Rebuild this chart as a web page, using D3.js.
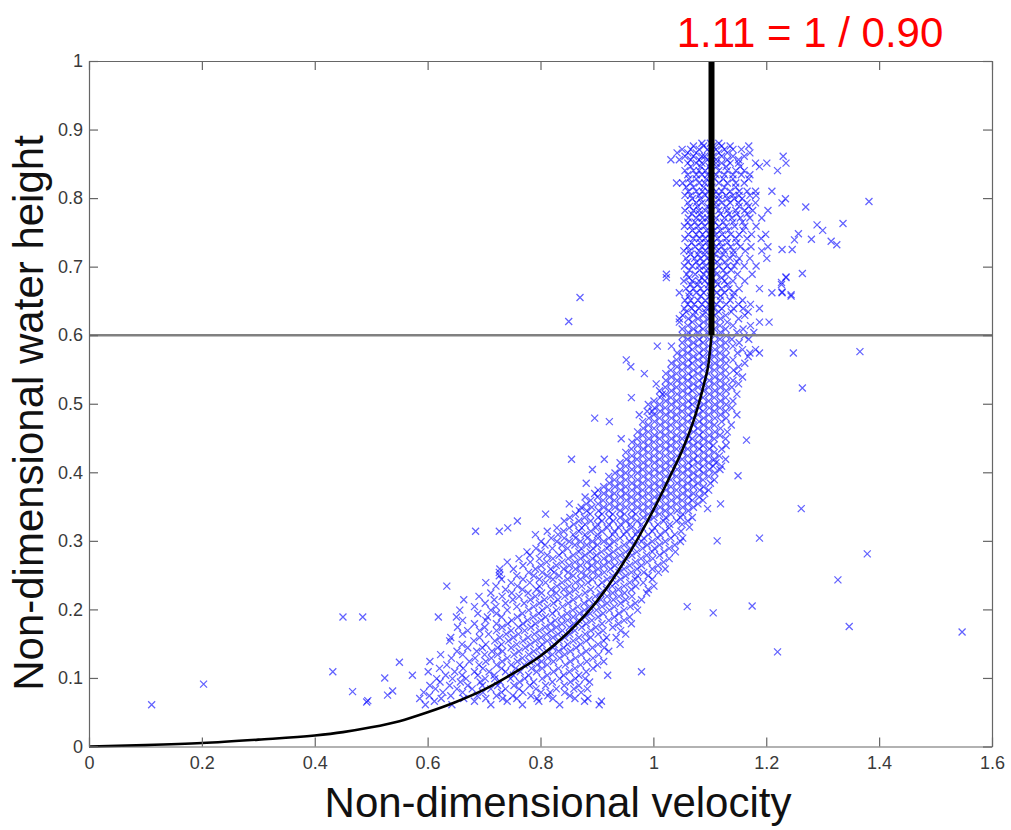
<!DOCTYPE html>
<html lang="en">
<head>
<meta charset="UTF-8" />
<title>Non-dimensional water height vs velocity</title>
<script src="https://cdn.jsdelivr.net/npm/d3@7"></script>
<style>
  body { margin: 0; background: #fff; }
  svg { display: block; font-family: "Liberation Sans", Arial, sans-serif; }
  .tick text { fill: #3a3a3a; font-size: 18px; font-family: "Liberation Sans", Arial, sans-serif; }
  .domain, .tick line { stroke: #666; stroke-width: 1.2; }
</style>
</head>
<body>
<div id="chart"></div>
<script>
// tick values
const xTicks = [0, 0.2, 0.4, 0.6, 0.8, 1, 1.2, 1.4, 1.6];
const yTicks = [0, 0.1, 0.2, 0.3, 0.4, 0.5, 0.6, 0.7, 0.8, 0.9, 1];

// theoretical curve
const curveX = [0, 0.1, 0.2, 0.3, 0.4, 0.45, 0.5, 0.55, 0.6, 0.65, 0.7, 0.75, 0.8, 0.85, 0.9, 0.95, 1.0, 1.03, 1.05, 1.075, 1.09, 1.098, 1.103];
const curveY = [0, 0.002, 0.005, 0.01, 0.016, 0.021, 0.028, 0.037, 0.05, 0.065, 0.083, 0.106, 0.132, 0.167, 0.212, 0.272, 0.345, 0.395, 0.43, 0.485, 0.53, 0.56, 0.6];

// limit line and level line
const limitX = 1.103;
const levelY = 0.6;

// scattered measurements far from the band [x, y]
const lowOutliers = [[0.111,0.061],[0.203,0.091],[0.432,0.109],[0.450,0.189],[0.485,0.189],[0.467,0.080],[0.492,0.065],[0.494,0.067],[0.524,0.100],[0.529,0.075],[0.538,0.081],[0.550,0.123],[0.573,0.104]];
const rightOutliers = [[1.150,0.395],[1.096,0.347],[1.119,0.354],[1.262,0.347],[1.064,0.320],[1.113,0.300],[1.188,0.304],[1.379,0.281],[1.327,0.243],[1.060,0.204],[1.106,0.195],[1.175,0.205],[1.347,0.175],[1.547,0.167],[1.220,0.138],[1.248,0.574],[1.264,0.523],[1.165,0.447],[1.366,0.576],[1.270,0.787],[1.382,0.795],[1.336,0.763],[1.290,0.761],[1.300,0.753],[1.280,0.740],[1.315,0.737],[1.325,0.732],[1.228,0.725],[1.246,0.725],[1.257,0.748],[1.250,0.739],[1.264,0.690],[1.235,0.685],[1.227,0.677],[1.228,0.663],[1.244,0.659],[0.870,0.655],[0.850,0.620]];

// main band, one row per height: [y, x, x, ...]
const bandRows = [
[0.061,0.596,0.643,0.712,0.768,0.834,0.904],
[0.066,0.612,0.683,0.741,0.797,0.878,0.908],
[0.070,0.586,0.624,0.664,0.703,0.733,0.758,0.794,0.822,0.861,0.884],
[0.074,0.603,0.641,0.688,0.722,0.751,0.783,0.813,0.852],
[0.079,0.593,0.627,0.662,0.698,0.731,0.769,0.801,0.817,0.843,0.872],
[0.084,0.614,0.652,0.679,0.712,0.738,0.762,0.792,0.828,0.859,0.883],
[0.089,0.604,0.639,0.671,0.697,0.724,0.753,0.781,0.809,0.842,0.868],
[0.094,0.622,0.658,0.693,0.729,0.763,0.788,0.821,0.853,0.887],
[0.099,0.616,0.644,0.668,0.702,0.719,0.747,0.772,0.803,0.834,0.862,0.879],
[0.104,0.632,0.661,0.689,0.718,0.752,0.779,0.812,0.841,0.868,0.919],
[0.109,0.601,0.648,0.683,0.709,0.738,0.764,0.793,0.823,0.851,0.881,0.979],
[0.114,0.621,0.663,0.698,0.731,0.756,0.784,0.803,0.832,0.861,0.893],
[0.119,0.634,0.657,0.691,0.722,0.748,0.771,0.794,0.812,0.844,0.871,0.901],
[0.124,0.604,0.674,0.703,0.732,0.759,0.781,0.802,0.823,0.853,0.882,0.912],
[0.129,0.642,0.684,0.713,0.741,0.768,0.792,0.813,0.834,0.862,0.893],
[0.134,0.623,0.662,0.701,0.724,0.753,0.779,0.801,0.821,0.843,0.872,0.903],
[0.139,0.652,0.687,0.714,0.733,0.762,0.788,0.811,0.832,0.853,0.881,0.921],
[0.144,0.671,0.697,0.724,0.748,0.773,0.798,0.822,0.841,0.863,0.892,0.913],
[0.149,0.661,0.703,0.731,0.758,0.782,0.803,0.824,0.848,0.871,0.902,0.941],
[0.154,0.639,0.682,0.719,0.743,0.769,0.791,0.812,0.833,0.858,0.881,0.912],
[0.159,0.641,0.692,0.728,0.752,0.778,0.801,0.822,0.843,0.868,0.889,0.917,0.934],
[0.164,0.662,0.708,0.739,0.761,0.789,0.811,0.831,0.852,0.879,0.902,0.951],
[0.169,0.671,0.692,0.722,0.748,0.772,0.798,0.819,0.839,0.861,0.889,0.911,0.942],
[0.174,0.653,0.701,0.732,0.761,0.783,0.808,0.828,0.851,0.873,0.898,0.928],
[0.179,0.683,0.722,0.742,0.769,0.791,0.818,0.838,0.859,0.881,0.909,0.938,0.961],
[0.184,0.662,0.703,0.749,0.777,0.801,0.826,0.848,0.868,0.891,0.921,0.948],
[0.189,0.619,0.651,0.706,0.731,0.759,0.787,0.809,0.837,0.858,0.879,0.902,0.931,0.958],
[0.194,0.689,0.722,0.768,0.797,0.821,0.847,0.869,0.888,0.911,0.939],
[0.199,0.657,0.712,0.741,0.779,0.803,0.828,0.857,0.878,0.899,0.922,0.948,0.972],
[0.204,0.683,0.721,0.758,0.788,0.812,0.839,0.866,0.887,0.909,0.931,0.959],
[0.209,0.702,0.738,0.771,0.798,0.823,0.849,0.877,0.898,0.918,0.942,0.968],
[0.214,0.664,0.718,0.751,0.782,0.807,0.831,0.858,0.886,0.907,0.929,0.951,0.979],
[0.219,0.691,0.732,0.762,0.791,0.818,0.843,0.868,0.897,0.918,0.939,0.962],
[0.224,0.712,0.749,0.778,0.802,0.828,0.852,0.879,0.906,0.928,0.949,0.988],
[0.229,0.738,0.768,0.793,0.819,0.841,0.862,0.889,0.917,0.938,0.961,0.991],
[0.234,0.634,0.721,0.759,0.798,0.829,0.851,0.873,0.902,0.927,0.948,0.969,1.001],
[0.239,0.703,0.748,0.781,0.809,0.838,0.862,0.884,0.909,0.933,0.958,0.982],
[0.244,0.731,0.769,0.798,0.822,0.848,0.871,0.892,0.918,0.942,0.968,0.998],
[0.249,0.727,0.758,0.788,0.812,0.833,0.858,0.881,0.903,0.928,0.951,0.972,0.991],
[0.254,0.727,0.779,0.803,0.824,0.849,0.872,0.893,0.913,0.939,0.961,0.983,1.009],
[0.259,0.728,0.752,0.791,0.818,0.841,0.862,0.883,0.902,0.924,0.948,0.971,0.998,1.021],
[0.264,0.769,0.801,0.828,0.851,0.871,0.891,0.912,0.932,0.958,0.979,1.008],
[0.269,0.741,0.782,0.811,0.838,0.861,0.882,0.901,0.921,0.943,0.968,0.989,1.018],
[0.274,0.762,0.798,0.822,0.849,0.871,0.892,0.912,0.931,0.952,0.978,0.999,1.028],
[0.279,0.781,0.812,0.833,0.858,0.879,0.899,0.921,0.941,0.962,0.988,1.011],
[0.284,0.776,0.801,0.839,0.868,0.888,0.908,0.929,0.951,0.971,0.998,1.019,1.039],
[0.289,0.792,0.821,0.848,0.872,0.893,0.918,0.938,0.959,0.981,1.002,1.028],
[0.294,0.808,0.838,0.861,0.882,0.901,0.922,0.948,0.968,0.989,1.011,1.038],
[0.299,0.801,0.829,0.851,0.871,0.892,0.912,0.931,0.958,0.979,0.998,1.021,1.048],
[0.304,0.819,0.842,0.862,0.883,0.902,0.921,0.941,0.962,0.983,1.008,1.031,1.052],
[0.309,0.791,0.831,0.858,0.879,0.901,0.928,0.948,0.969,0.991,1.012,1.038],
[0.314,0.685,0.727,0.812,0.841,0.868,0.889,0.909,0.931,0.952,0.972,0.998,1.021,1.049],
[0.319,0.742,0.829,0.851,0.873,0.898,0.918,0.939,0.961,0.981,1.002,1.028],
[0.324,0.859,0.879,0.901,0.921,0.942,0.959,0.979,1.008,1.029,1.051],
[0.329,0.759,0.842,0.868,0.889,0.909,0.929,0.951,0.971,0.992,1.018,1.041,1.061],
[0.334,0.852,0.878,0.902,0.922,0.941,0.961,0.982,1.001,1.022,1.048,1.069],
[0.339,0.809,0.862,0.888,0.909,0.928,0.949,0.969,0.991,1.011,1.031,1.052],
[0.344,0.869,0.882,0.903,0.921,0.941,0.962,0.981,1.002,1.021,1.042,1.062],
[0.349,0.872,0.891,0.912,0.932,0.951,0.972,0.991,1.012,1.031,1.052,1.071],
[0.354,0.851,0.881,0.902,0.922,0.941,0.962,0.982,1.001,1.022,1.041,1.061,1.079],
[0.359,0.889,0.911,0.931,0.952,0.971,0.992,1.011,1.032,1.051,1.069,1.088],
[0.364,0.879,0.901,0.922,0.942,0.961,0.981,1.002,1.021,1.042,1.062,1.081],
[0.369,0.896,0.912,0.931,0.951,0.972,0.991,1.012,1.031,1.052,1.071,1.091],
[0.374,0.902,0.921,0.942,0.962,0.981,1.001,1.022,1.041,1.061,1.082,1.098],
[0.379,0.912,0.932,0.951,0.971,0.992,1.011,1.031,1.052,1.071,1.089],
[0.384,0.881,0.922,0.941,0.962,0.981,1.002,1.021,1.042,1.061,1.079,1.101],
[0.389,0.931,0.951,0.972,0.991,1.012,1.031,1.051,1.069,1.088,1.108],
[0.394,0.921,0.942,0.961,0.982,1.001,1.022,1.041,1.062,1.079,1.098],
[0.399,0.932,0.951,0.972,0.992,1.011,1.032,1.052,1.071,1.089,1.109],
[0.404,0.892,0.941,0.962,0.981,1.002,1.021,1.042,1.061,1.081,1.099,1.118],
[0.409,0.951,0.972,0.991,1.012,1.031,1.052,1.069,1.088,1.106,1.121],
[0.414,0.941,0.961,0.982,1.002,1.022,1.041,1.062,1.079,1.098,1.111],
[0.419,0.855,0.913,0.952,0.971,0.992,1.011,1.032,1.051,1.071,1.089,1.108,1.128],
[0.424,0.962,0.981,1.001,1.021,1.042,1.061,1.079,1.098,1.117],
[0.429,0.951,0.972,0.991,1.011,1.031,1.052,1.071,1.089,1.108],
[0.434,0.961,0.982,1.002,1.022,1.041,1.061,1.081,1.099,1.121],
[0.439,0.972,0.991,1.012,1.031,1.052,1.071,1.088,1.106,1.129],
[0.444,0.962,0.982,1.001,1.022,1.041,1.062,1.079,1.098],
[0.449,0.943,0.971,0.992,1.011,1.032,1.051,1.069,1.089,1.108,1.128],
[0.454,0.981,1.002,1.021,1.041,1.061,1.081,1.099,1.118],
[0.459,0.972,0.991,1.012,1.031,1.052,1.071,1.088,1.109,1.131],
[0.464,0.982,1.001,1.022,1.042,1.062,1.079,1.098,1.119],
[0.469,0.991,1.012,1.031,1.051,1.071,1.089,1.108,1.138],
[0.474,0.922,0.981,1.002,1.021,1.041,1.061,1.081,1.099,1.121],
[0.479,0.896,0.992,1.011,1.032,1.052,1.069,1.089,1.109,1.129],
[0.484,0.975,1.001,1.022,1.041,1.062,1.079,1.098,1.119,1.148],
[0.489,0.989,0.998,1.012,1.031,1.051,1.071,1.088,1.108,1.128],
[0.494,1.002,1.021,1.042,1.061,1.081,1.099,1.118,1.139],
[0.499,0.991,1.011,1.032,1.052,1.069,1.089,1.109,1.129],
[0.504,1.001,1.022,1.041,1.062,1.079,1.098,1.119,1.141],
[0.509,0.961,1.012,1.031,1.051,1.071,1.088,1.108,1.128],
[0.514,1.016,1.022,1.042,1.061,1.081,1.099,1.118,1.148],
[0.519,1.011,1.032,1.052,1.069,1.089,1.109,1.129],
[0.524,1.021,1.041,1.062,1.079,1.098,1.119,1.139],
[0.529,1.005,1.031,1.051,1.071,1.088,1.108,1.128,1.151],
[0.534,1.022,1.042,1.061,1.081,1.099,1.118,1.141],
[0.539,1.032,1.052,1.069,1.089,1.109,1.129,1.158],
[0.544,0.984,1.022,1.041,1.062,1.079,1.098,1.119,1.148],
[0.549,1.031,1.051,1.071,1.088,1.108,1.128,1.142],
[0.554,0.960,1.042,1.061,1.081,1.099,1.118,1.151],
[0.559,1.032,1.052,1.069,1.089,1.109,1.129,1.162],
[0.564,0.952,1.041,1.062,1.079,1.098,1.119,1.141],
[0.569,1.051,1.071,1.088,1.108,1.128,1.168],
[0.574,1.042,1.061,1.081,1.099,1.118,1.149,1.171,1.188],
[0.579,1.052,1.069,1.089,1.109,1.129,1.158,1.181],
[0.584,1.007,1.032,1.062,1.079,1.098,1.119,1.141],
[0.589,1.051,1.071,1.088,1.108,1.128,1.152],
[0.594,1.061,1.081,1.099,1.118,1.139,1.169]
];

// dense column above the level line: [y, x, x, ...]
const columnRows = [
[0.599,1.052,1.069,1.089,1.109,1.129,1.161],
[0.604,1.062,1.079,1.098,1.119,1.148,1.178],
[0.609,1.051,1.071,1.088,1.108,1.128,1.159],
[0.614,1.061,1.081,1.099,1.118,1.141,1.172],
[0.619,1.046,1.069,1.089,1.109,1.131,1.188,1.205],
[0.624,1.046,1.062,1.079,1.098,1.119,1.151],
[0.629,1.052,1.071,1.088,1.108,1.128,1.162],
[0.634,1.058,1.074,1.092,1.103,1.116,1.138,1.168],
[0.639,1.055,1.068,1.081,1.094,1.107,1.121,1.142,1.159,1.188],
[0.645,1.061,1.072,1.086,1.098,1.112,1.129,1.151,1.172],
[0.651,1.056,1.066,1.079,1.092,1.104,1.118,1.136,1.158],
[0.657,1.063,1.084,1.101,1.119,1.141,1.244],
[0.662,1.046,1.064,1.076,1.089,1.102,1.112,1.126,1.143,1.210,1.228],
[0.668,1.058,1.071,1.084,1.096,1.106,1.121,1.134,1.152,1.188],
[0.674,1.066,1.079,1.098,1.114,1.131,1.227],
[0.679,1.054,1.069,1.081,1.091,1.101,1.111,1.126,1.141,1.162],
[0.684,1.023,1.063,1.086,1.104,1.121,1.235],
[0.689,1.023,1.059,1.074,1.089,1.099,1.112,1.129,1.149,1.175],
[0.695,1.064,1.082,1.094,1.108,1.124,1.138],
[0.701,1.055,1.069,1.081,1.092,1.103,1.116,1.131,1.143,1.161,1.182],
[0.707,1.061,1.076,1.088,1.101,1.113,1.127,1.148],
[0.712,1.058,1.073,1.084,1.096,1.106,1.119,1.136,1.152,1.171,1.201],
[0.718,1.066,1.079,1.091,1.109,1.124,1.141],
[0.723,1.054,1.064,1.081,1.092,1.102,1.113,1.126,1.142,1.163,1.192],
[0.729,1.061,1.074,1.086,1.098,1.111,1.121,1.137,1.154,1.173,1.203],
[0.735,1.068,1.083,1.094,1.106,1.118,1.131,1.148],
[0.741,1.056,1.071,1.082,1.092,1.101,1.114,1.129,1.146,1.166,1.191],
[0.747,1.062,1.076,1.087,1.099,1.111,1.122,1.137,1.152,1.174,1.199],
[0.753,1.069,1.081,1.094,1.107,1.119,1.133,1.159],
[0.759,1.055,1.066,1.079,1.091,1.104,1.116,1.129,1.144,1.162,1.182],
[0.765,1.061,1.074,1.086,1.098,1.109,1.124,1.141,1.158],
[0.771,1.062,1.076,1.087,1.096,1.111,1.126,1.139,1.154,1.171,1.192],
[0.777,1.068,1.082,1.101,1.119,1.134,1.148,1.166],
[0.782,1.056,1.071,1.081,1.092,1.102,1.116,1.131,1.146,1.162,1.176,1.203],
[0.788,1.064,1.078,1.096,1.112,1.129,1.152,1.169],
[0.793,1.061,1.076,1.086,1.101,1.111,1.121,1.136,1.151,1.166,1.181,1.228],
[0.799,1.069,1.083,1.098,1.116,1.131,1.143,1.157,1.234],
[0.804,1.056,1.066,1.081,1.092,1.106,1.116,1.129,1.141,1.152,1.171,1.182],
[0.810,1.062,1.076,1.087,1.097,1.111,1.121,1.136,1.152,1.166,1.181,1.210],
[0.816,1.058,1.071,1.089,1.104,1.126,1.146],
[0.822,1.041,1.052,1.066,1.081,1.091,1.101,1.116,1.131,1.146,1.161],
[0.828,1.063,1.076,1.094,1.109,1.124,1.141,1.169],
[0.834,1.061,1.076,1.086,1.096,1.111,1.126,1.141,1.156,1.171],
[0.840,1.056,1.071,1.081,1.092,1.102,1.116,1.131,1.146,1.161,1.220],
[0.846,1.066,1.084,1.099,1.112,1.129,1.154,1.188],
[0.851,1.061,1.076,1.086,1.101,1.111,1.121,1.136,1.151,1.181,1.201,1.235],
[0.856,1.031,1.046,1.066,1.081,1.096,1.111,1.131,1.151],
[0.861,1.056,1.071,1.086,1.091,1.106,1.121,1.141,1.161,1.230],
[0.866,1.042,1.061,1.076,1.101,1.116,1.131,1.171],
[0.871,1.051,1.066,1.081,1.096,1.111,1.126,1.141,1.156],
[0.876,1.071,1.089,1.106,1.121,1.136,1.169],
[0.880,1.086,1.101,1.116]
];

const w = 1011;
const h = 830;
const margin = {left: 89, right: 19, top: 61, bottom: 83.5};

const xScale = d3.scaleLinear([0, 1.6], [margin.left, w - margin.right]);
const yScale = d3.scaleLinear([0, 1], [h - margin.bottom, margin.top]);

const svg = d3.select("#chart")
  .append("svg")
  .attr("width", w)
  .attr("height", h);

svg.append("rect").attr("width", w).attr("height", h).attr("fill", "#fff");

// flatten rows into points
let points = lowOutliers.concat(rightOutliers);
bandRows.concat(columnRows).forEach(row => {
  for (let i = 1; i < row.length; i++) points.push([row[i], row[0]]);
});

// markers
svg.append("g")
  .selectAll("path")
  .data(points)
  .enter()
  .append("path")
  .attr("transform", d => "translate(" + xScale(d[0]) + "," + yScale(d[1]) + ")")
  .attr("d", "M-3.5,-3.5L3.5,3.5M-3.5,3.5L3.5,-3.5")
  .attr("fill", "none")
  .attr("stroke", "#0000ff")
  .attr("stroke-opacity", 0.62)
  .attr("stroke-width", 1.25);

// level line
svg.append("line")
  .attr("x1", xScale(0)).attr("x2", xScale(1.6))
  .attr("y1", yScale(levelY)).attr("y2", yScale(levelY))
  .attr("stroke", "#808080")
  .attr("stroke-width", 2.5);

// theory curve
const curve = curveX.map((x, i) => [x, curveY[i]]);
svg.append("path")
  .datum(curve)
  .attr("d", d3.line().x(d => xScale(d[0])).y(d => yScale(d[1])).curve(d3.curveMonotoneX))
  .attr("fill", "none")
  .attr("stroke", "#000")
  .attr("stroke-width", 2.6);

// limit line
svg.append("line")
  .attr("x1", xScale(limitX)).attr("x2", xScale(limitX))
  .attr("y1", yScale(levelY)).attr("y2", yScale(1))
  .attr("stroke", "#000")
  .attr("stroke-width", 6);

// axes, ticks pointing inwards on all four sides
svg.append("g")
  .attr("transform", "translate(0," + yScale(0) + ")")
  .call(d3.axisBottom(xScale).tickValues(xTicks).tickFormat(d3.format("")).tickSizeInner(-9).tickSizeOuter(0).tickPadding(10));
svg.append("g")
  .attr("transform", "translate(0," + yScale(1) + ")")
  .call(d3.axisTop(xScale).tickValues(xTicks).tickFormat("").tickSizeInner(-9).tickSizeOuter(0));
svg.append("g")
  .attr("transform", "translate(" + xScale(0) + ",0)")
  .call(d3.axisLeft(yScale).tickValues(yTicks).tickFormat(d3.format("")).tickSizeInner(-9).tickSizeOuter(0).tickPadding(6));
svg.append("g")
  .attr("transform", "translate(" + xScale(1.6) + ",0)")
  .call(d3.axisRight(yScale).tickValues(yTicks).tickFormat("").tickSizeInner(-9).tickSizeOuter(0));

// titles
svg.append("text")
  .attr("x", 558).attr("y", 817)
  .attr("text-anchor", "middle")
  .attr("font-size", 42)
  .attr("fill", "#111")
  .text("Non-dimensional velocity");

svg.append("text")
  .attr("transform", "translate(43,413) rotate(-90)")
  .attr("text-anchor", "middle")
  .attr("font-size", 42)
  .attr("fill", "#111")
  .text("Non-dimensional water height");

svg.append("text")
  .attr("x", 810).attr("y", 47)
  .attr("text-anchor", "middle")
  .attr("font-size", 42)
  .attr("fill", "#ff0000")
  .text("1.11 = 1 / 0.90");
</script>
</body>
</html>
